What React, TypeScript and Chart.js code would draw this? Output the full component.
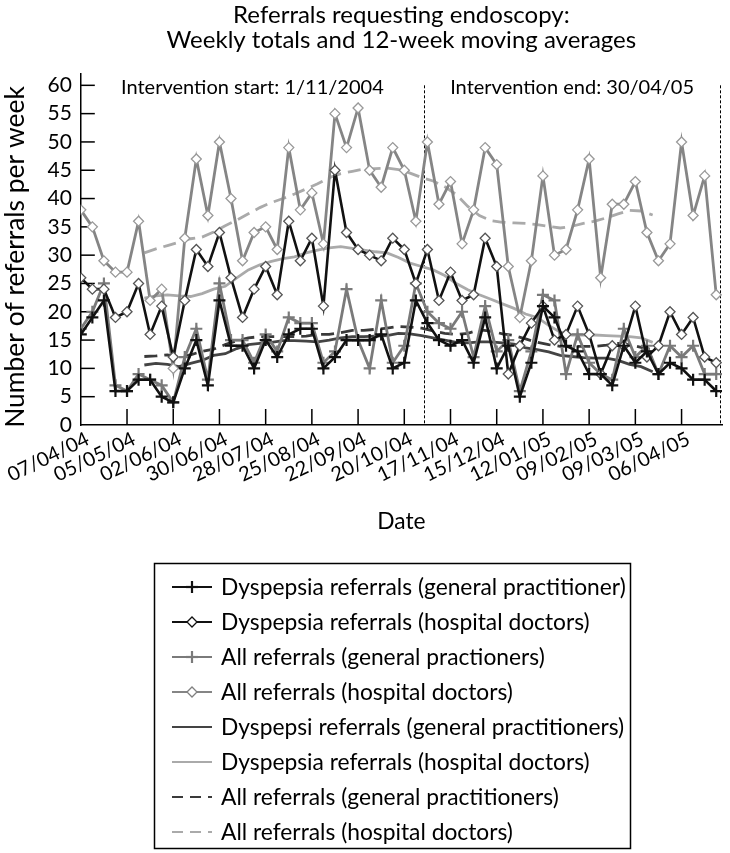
import React, { useEffect, useRef } from "react";
import { Chart, registerables } from "chart.js";

Chart.register(...registerables);

const WIDTH = 730;
const HEIGHT = 853;
const FONT = "Lato, 'Open Sans', 'DejaVu Sans', sans-serif";

const TITLE = ["Referrals requesting endoscopy:", "Weekly totals and 12-week moving averages"];
const Y_TITLE = "Number of referrals per week";
const X_TITLE = "Date";
const START_TEXT = "Intervention start: 1/11/2004";
const END_TEXT = "Intervention end: 30/04/05";
const INTERVENTION_START = 29.7;
const INTERVENTION_END = 55.35;

const TICK_WEEKS = [0, 4, 8, 12, 16, 20, 24, 28, 32, 36, 40, 44, 48, 52];
const TICK_LABELS = [
  "07/04/04", "05/05/04", "02/06/04", "30/06/04", "28/07/04", "25/08/04", "22/09/04",
  "20/10/04", "17/11/04", "15/12/04", "12/01/05", "09/02/05", "09/03/05", "06/04/05",
];
const Y_TICKS = [0, 5, 10, 15, 20, 25, 30, 35, 40, 45, 50, 55, 60];

// Weekly totals, week 0 = 07/04/04
const DYS_GP = [
  16, 19, 22, 6, 6, 8, 8, 5, 4, 10,
  15, 7, 22, 14, 14, 10, 15, 12, 16, 17,
  17, 10, 12, 15, 15, 15, 16, 10, 11, 22,
  18, 15, 14, 15, 11, 19, 10, 14, 5, 11,
  21, 19, 14, 13, 9, 9, 7, 14, 11, 13,
  9, 11, 10, 8, 8, 6,
];
const DYS_HOSP = [
  26, 24, 24, 19, 20, 25, 16, 21, 12, 22,
  31, 28, 34, 26, 19, 24, 28, 23, 36, 29,
  33, 21, 45, 34, 31, 30, 29, 33, 31, 25,
  31, 22, 27, 22, 23, 33, 28, 9, 14, 18,
  21, 15, 16, 21, 16, 9, 14, 14, 21, 12,
  14, 20, 16, 19, 12, 11,
];
const ALL_GP = [
  17, 20, 25, 7, 6, 9, 8, 7, 4, 12,
  17, 8, 25, 15, 15, 11, 16, 13, 19, 18,
  18, 11, 13, 24, 15, 10, 22, 11, 14, 25,
  20, 18, 17, 20, 12, 21, 13, 15, 6, 13,
  23, 22, 9, 16, 11, 9, 8, 17, 12, 14,
  9, 14, 12, 14, 9, 9,
];
const ALL_HOSP = [
  38, 35, 29, 27, 27, 36, 22, 24, 10, 33,
  47, 37, 50, 40, 29, 34, 35, 31, 49, 38,
  41, 32, 55, 49, 56, 45, 42, 49, 45, 36,
  50, 39, 43, 32, 38, 49, 46, 28, 19, 29,
  44, 30, 31, 38, 47, 26, 39, 39, 43, 34,
  29, 32, 50, 37, 44, 23,
];

// 12-week moving averages, first value centred at week 5.5
const MA_START = 5.5;
const MA_DYS_GP = [
  10.6, 10.9, 10.7, 10.3, 10.9, 11.4, 12.3, 12.6, 13.5, 14.2,
  14.4, 14.6, 14.9, 14.9, 14.8, 14.7, 15.0, 15.4, 15.6, 15.6,
  15.7, 15.8, 16.2, 16.1, 15.8, 15.4, 15.0, 14.6, 14.5, 14.7,
  14.7, 14.5, 14.3, 13.6, 13.3, 12.9, 12.3, 12.1, 11.9, 11.8,
  11.8, 11.4, 10.7, 10.3, 9.4,
];
const MA_DYS_HOSP = [
  22.4, 22.8, 23.0, 22.8, 22.7, 23.2, 24.0, 24.5, 26.0, 27.4,
  28.3, 28.9, 29.4, 29.7, 30.4, 30.9, 31.3, 31.5, 31.2, 30.9,
  30.6, 30.4, 29.6, 28.6, 28.0, 27.4, 26.4, 25.0, 23.9, 23.0,
  22.2, 21.4, 20.6, 19.6, 19.0, 17.6, 16.4, 15.9, 15.9, 15.9,
  15.8, 15.7, 15.6, 15.4, 14.6,
];
const MA_ALL_GP = [
  12.1, 12.2, 12.4, 12.0, 12.4, 13.0, 13.4, 14.2, 14.9, 15.4,
  15.6, 15.6, 15.6, 15.6, 15.7, 16.0, 16.0, 16.3, 16.7, 16.7,
  16.9, 17.1, 17.4, 17.3, 17.1, 16.6, 16.2, 16.0, 16.2, 16.8,
  16.6, 16.1, 15.8, 15.2, 14.6, 14.2, 13.9, 13.9, 13.9, 13.9,
  14.1, 14.4, 14.2, 13.7, 13.3,
];
const MA_ALL_HOSP = [
  30.4, 31.1, 31.7, 32.3, 32.9, 33.2, 34.1, 35.2, 36.2, 37.3,
  38.4, 39.3, 40.0, 40.8, 41.7, 42.6, 43.7, 44.4, 44.8, 45.2,
  45.3, 45.4, 45.1, 44.5, 43.7, 43.1, 42.1, 40.7, 38.6, 37.0,
  36.1, 35.8, 35.7, 35.6, 35.4, 35.1, 34.8, 35.1, 35.6, 36.0,
  36.6, 37.3, 37.9, 37.8, 37.1,
];

const LABELS = [
  "Dyspepsia referrals (general practitioner)",
  "Dyspepsia referrals (hospital doctors)",
  "All referrals (general practioners)",
  "All referrals (hospital doctors)",
  "Dyspepsi referrals (general practitioners)",
  "Dyspepsia referrals (hospital doctors)",
  "All referrals (general practitioners)",
  "All referrals (hospital doctors)",
];

const weekly = (arr: number[]) => arr.map((y, i) => ({ x: i, y }));
const moving = (arr: number[]) => arr.map((y, i) => ({ x: MA_START + i, y }));

function fitSize(ctx: CanvasRenderingContext2D, text: string, target: number, base: number) {
  ctx.font = `${base}px ${FONT}`;
  const w = ctx.measureText(text).width;
  return Math.max(10, Math.min(base * 1.3, (base * target) / w));
}

function seg(ctx: CanvasRenderingContext2D, x1: number, y1: number, x2: number, y2: number) {
  ctx.beginPath();
  ctx.moveTo(x1, y1);
  ctx.lineTo(x2, y2);
  ctx.stroke();
}

function marker(ctx: CanvasRenderingContext2D, style: string, x: number, y: number, r: number, stroke: string, fill: string, lw: number) {
  ctx.save();
  ctx.setLineDash([]);
  ctx.strokeStyle = stroke;
  ctx.lineWidth = lw;
  if (style === "cross") {
    seg(ctx, x - r, y, x + r, y);
    seg(ctx, x, y - r, x, y + r);
  } else {
    ctx.beginPath();
    ctx.moveTo(x - r, y);
    ctx.lineTo(x, y - r);
    ctx.lineTo(x + r, y);
    ctx.lineTo(x, y + r);
    ctx.closePath();
    ctx.fillStyle = fill;
    ctx.fill();
    ctx.stroke();
  }
  ctx.restore();
}

const overlay = {
  id: "overlay",
  beforeDatasetsDraw(chart: any) {
    const { ctx, chartArea, scales } = chart;
    const xs = scales.x;
    const ys = scales.y;
    ctx.save();
    ctx.strokeStyle = "#000";
    ctx.lineWidth = 1;
    ctx.setLineDash([3, 2]);
    [INTERVENTION_START, INTERVENTION_END].forEach((w) => {
      const px = Math.round(xs.getPixelForValue(w)) + 0.5;
      seg(ctx, px, ys.getPixelForValue(60), px, chartArea.bottom);
    });
    ctx.setLineDash([]);
    ctx.lineWidth = 1.5;
    Y_TICKS.filter((v) => v > 0).forEach((v) => {
      const py = ys.getPixelForValue(v);
      seg(ctx, chartArea.left, py, chartArea.left + 14, py);
    });
    TICK_WEEKS.filter((w) => w > 0).forEach((w) => {
      const px = xs.getPixelForValue(w);
      seg(ctx, px, chartArea.bottom, px, chartArea.bottom - 16);
    });
    ctx.restore();
  },
  afterDraw(chart: any) {
    const { ctx, chartArea, scales } = chart;
    const xs = scales.x;
    const cx = (chartArea.left + chartArea.right) / 2;
    ctx.save();
    ctx.fillStyle = "#000";
    ctx.textAlign = "center";
    ctx.textBaseline = "middle";

    // Titles
    const ts = fitSize(ctx, TITLE[1], 470, 20);
    ctx.font = `${ts}px ${FONT}`;
    ctx.fillText(TITLE[0], cx, 15);
    ctx.fillText(TITLE[1], cx, 40);

    // Interventions
    const as = fitSize(ctx, START_TEXT, 263, 18);
    ctx.font = `${as}px ${FONT}`;
    const sPx = xs.getPixelForValue(INTERVENTION_START);
    const ePx = xs.getPixelForValue(INTERVENTION_END);
    ctx.fillText(START_TEXT, (chartArea.left + sPx) / 2, 88);
    ctx.fillText(END_TEXT, (sPx + ePx) / 2, 88);

    // Axis titles
    const ys2 = fitSize(ctx, Y_TITLE, 342, 21);
    ctx.save();
    ctx.translate(15, 257);
    ctx.rotate(-Math.PI / 2);
    ctx.font = `${ys2}px ${FONT}`;
    ctx.fillText(Y_TITLE, 0, 0);
    ctx.restore();

    // Legend
    const datasets = chart.data.datasets;
    const ls = fitSize(ctx, datasets[0].label, 405, 20);
    ctx.font = `${ls}px ${FONT}`;
    ctx.fillText(X_TITLE, cx, 522);

    ctx.strokeStyle = "#000";
    ctx.lineWidth = 1.5;
    ctx.strokeRect(154.5, 563.5, 476, 285);
    ctx.textAlign = "left";
    datasets.forEach((ds: any, i: number) => {
      const cy = 587 + i * 35;
      ctx.strokeStyle = ds.borderColor;
      ctx.lineWidth = 2.2;
      ctx.setLineDash(ds.borderDash ? [11, 7] : []);
      seg(ctx, 172, cy, 212, cy);
      ctx.setLineDash([]);
      if (ds.pointRadius > 0) {
        marker(ctx, ds.pointStyle, 192, cy, ds.pointRadius, ds.legendMarkerColor, "#fff", ds.pointBorderWidth);
      }
      ctx.fillStyle = "#000";
      ctx.fillText(ds.label, 221, cy + 1);
    });
    ctx.restore();
  },
};

export default function App() {
  const canvasRef = useRef<HTMLCanvasElement | null>(null);

  useEffect(() => {
    if (!canvasRef.current) return;
    const chart = new Chart(canvasRef.current, {
      type: "line",
      data: {
        datasets: [
          {
            label: LABELS[0], data: weekly(DYS_GP), borderColor: "#111", borderWidth: 2.6,
            pointStyle: "cross", pointRadius: 6, pointBorderColor: "#111", pointBorderWidth: 2.2,
            legendMarkerColor: "#111", tension: 0,
          },
          {
            label: LABELS[1], data: weekly(DYS_HOSP), borderColor: "#111", borderWidth: 2.6,
            pointStyle: "rectRot", pointRadius: 5, pointBorderColor: "#555", pointBackgroundColor: "#fff",
            pointBorderWidth: 1.3, legendMarkerColor: "#111",
          },
          {
            label: LABELS[2], data: weekly(ALL_GP), borderColor: "#7a7a7a", borderWidth: 2.8,
            pointStyle: "cross", pointRadius: 6, pointBorderColor: "#7a7a7a", pointBorderWidth: 2.2,
            legendMarkerColor: "#7a7a7a",
          },
          {
            label: LABELS[3], data: weekly(ALL_HOSP), borderColor: "#858585", borderWidth: 2.8,
            pointStyle: "rectRot", pointRadius: 5, pointBorderColor: "#999", pointBackgroundColor: "#fff",
            pointBorderWidth: 1.3, legendMarkerColor: "#808080",
          },
          {
            label: LABELS[4], data: moving(MA_DYS_GP), borderColor: "#444", borderWidth: 2.8, pointRadius: 0,
          },
          {
            label: LABELS[5], data: moving(MA_DYS_HOSP), borderColor: "#aaa", borderWidth: 2.8, pointRadius: 0,
          },
          {
            label: LABELS[6], data: moving(MA_ALL_GP), borderColor: "#3a3a3a", borderWidth: 2.8, pointRadius: 0,
            borderDash: [13, 7],
          },
          {
            label: LABELS[7], data: moving(MA_ALL_HOSP), borderColor: "#aaa", borderWidth: 2.8, pointRadius: 0,
            borderDash: [13, 7],
          },
        ] as any,
      },
      options: {
        animation: false,
        responsive: true,
        maintainAspectRatio: false,
        events: [],
        layout: { padding: { top: 74, right: 8, left: 0, bottom: 0 }, autoPadding: false },
        plugins: { legend: { display: false }, tooltip: { enabled: false }, title: { display: false } },
        scales: {
          x: {
            type: "linear",
            min: 0,
            max: 55.5,
            grid: { display: false, drawTicks: false },
            border: { display: true, color: "#000", width: 1.5 },
            afterBuildTicks: (s: any) => { s.ticks = TICK_WEEKS.map((v) => ({ value: v })); },
            afterFit: (s: any) => { s.height = HEIGHT - 425; },
            ticks: {
              autoSkip: false,
              maxRotation: 26,
              minRotation: 26,
              padding: 2,
              labelOffset: 7,
              color: "#000",
              font: { family: FONT, size: 20 },
              callback: (v: any) => {
                const k = TICK_WEEKS.indexOf(Number(v));
                return k >= 0 ? TICK_LABELS[k] : "";
              },
            },
          },
          y: {
            type: "linear",
            min: 0,
            max: 62,
            grid: { display: false, drawTicks: false },
            border: { display: true, color: "#000", width: 1.5 },
            afterBuildTicks: (s: any) => { s.ticks = Y_TICKS.map((v) => ({ value: v })); },
            afterFit: (s: any) => { s.width = 77; },
            ticks: { padding: 9, color: "#000", font: { family: FONT, size: 21 } },
          },
        },
      },
      plugins: [overlay],
    });
    return () => chart.destroy();
  }, []);

  return (
    <div style={{ position: "absolute", left: 0, top: 0, width: WIDTH, height: HEIGHT, background: "#fff" }}>
      <canvas ref={canvasRef} />
    </div>
  );
}
